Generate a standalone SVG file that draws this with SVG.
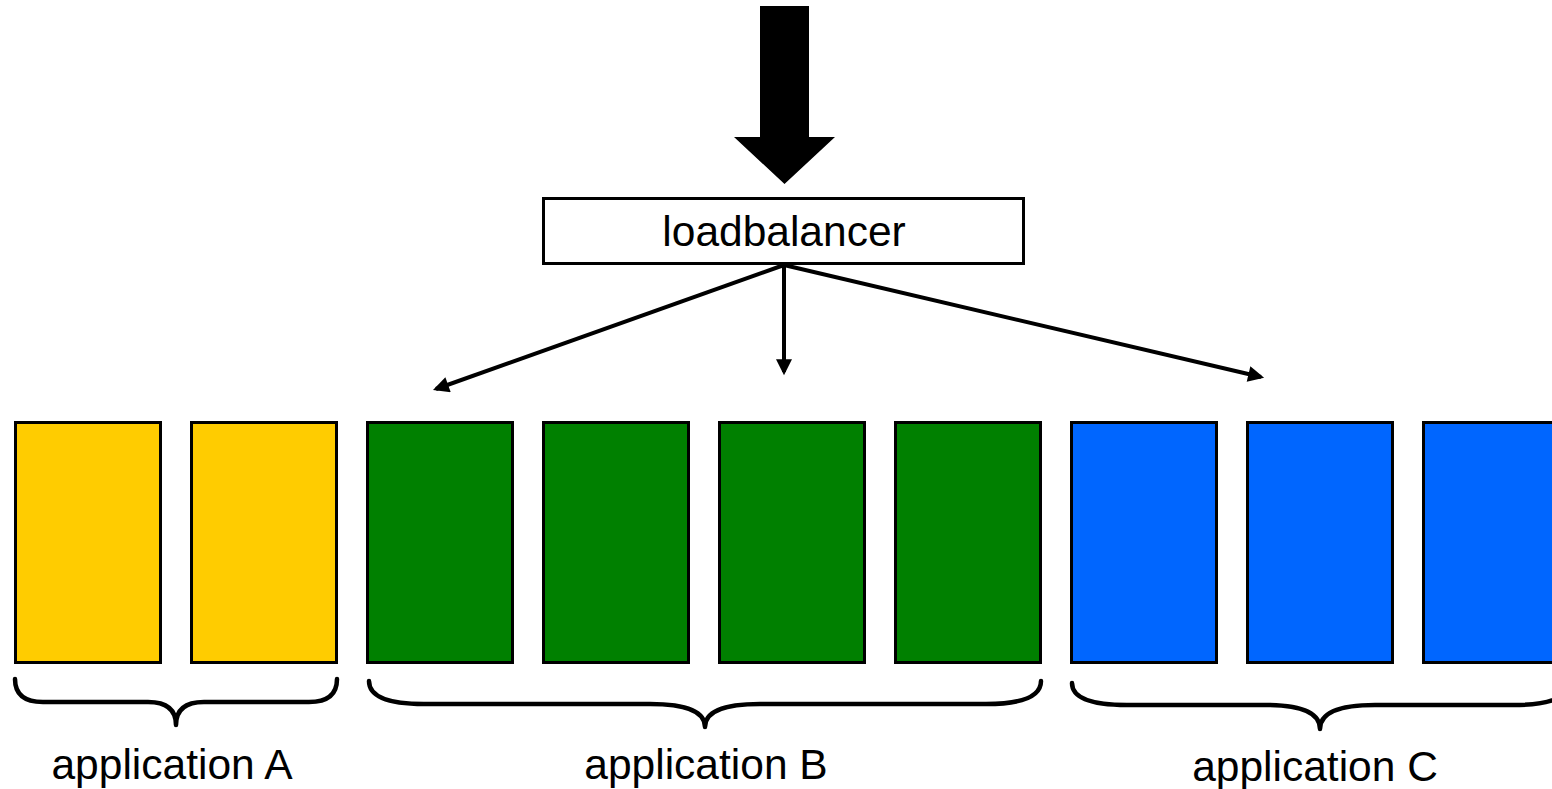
<svg xmlns="http://www.w3.org/2000/svg" width="1552" height="789" viewBox="0 0 1552 789">
  <style>
    .srv { stroke: #000; stroke-width: 3; }
    .a { fill: #ffcc00; }
    .b { fill: #008000; }
    .c { fill: #0066ff; }
    .edge { stroke: #000; stroke-width: 4; fill: none; marker-end: url(#head); }
    .brace { stroke: #000; stroke-width: 4.5; fill: none; stroke-linecap: round; stroke-linejoin: round; }
    .lbl { font-family: "Liberation Sans", Arial, sans-serif; font-size: 42.5px; fill: #000; text-anchor: middle; }
  </style>
  <defs>
    <marker id="head" viewBox="0 0 10 10" refX="8" refY="5" markerWidth="4.2" markerHeight="4" orient="auto" markerUnits="strokeWidth">
      <path d="M0,0 L10,5 L0,10 Z" fill="#000"/>
    </marker>
  </defs>

  <!-- incoming traffic -->
  <g id="incoming">
    <path d="M760,6 L809,6 L809,137 L835,137 L784.5,184 L734,137 L760,137 Z" fill="#000"/>
  </g>

  <g id="loadbalancer">
    <rect x="543.5" y="198.5" width="480" height="65" fill="#fff" stroke="#000" stroke-width="3"/>
    <text class="lbl" x="784" y="246">loadbalancer</text>
  </g>

  <g id="connectors">
    <line class="edge" x1="784" y1="265" x2="436" y2="389"/>
    <line class="edge" x1="784" y1="265" x2="784" y2="372"/>
    <line class="edge" x1="784" y1="265" x2="1261" y2="377"/>
  </g>

  <!-- application A -->
  <g id="app-a">
    <rect class="srv a" x="15.5" y="422.5" width="145" height="240"/>
    <rect class="srv a" x="191.5" y="422.5" width="145" height="240"/>
    <path class="brace" d="M15,679 Q15,702 43,702 L148,702 Q176,702 176,725 Q176,702 204,702 L309,702 Q337,702 337,679"/>
    <text class="lbl" x="172" y="779">application A</text>
  </g>

  <!-- application B -->
  <g id="app-b">
    <rect class="srv b" x="367.5" y="422.5" width="145" height="240"/>
    <rect class="srv b" x="543.5" y="422.5" width="145" height="240"/>
    <rect class="srv b" x="719.5" y="422.5" width="145" height="240"/>
    <rect class="srv b" x="895.5" y="422.5" width="145" height="240"/>
    <path class="brace" d="M369,681 Q369,704 424,704 L650,704 Q705,704 705,727 Q705,704 760,704 L986,704 Q1041,704 1041,681"/>
    <text class="lbl" x="706" y="779">application B</text>
  </g>

  <!-- application C -->
  <g id="app-c">
    <rect class="srv c" x="1071.5" y="422.5" width="145" height="240"/>
    <rect class="srv c" x="1247.5" y="422.5" width="145" height="240"/>
    <rect class="srv c" x="1423.5" y="422.5" width="145" height="240"/>
    <path class="brace" d="M1072,683 Q1072,705 1127,705 L1265,705 Q1320,705 1320,729 Q1320,705 1375,705 L1513,705 Q1568,705 1568,683"/>
    <text class="lbl" x="1315" y="781">application C</text>
  </g>
</svg>
